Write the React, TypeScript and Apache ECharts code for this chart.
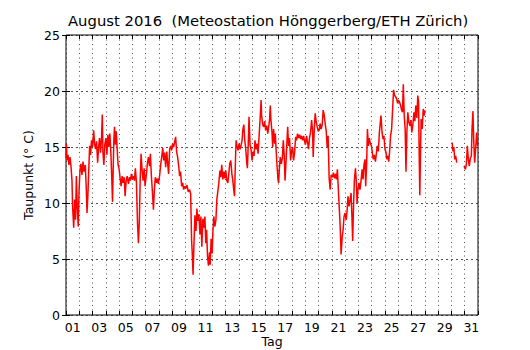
import React, { useEffect, useRef } from "react";
import * as echarts from "echarts";

// Time in days since 1 Aug 00:00, dew point in °C (null = missing data)
const times: number[] = [
  0.00, 0.03, 0.08, 0.15, 0.22, 0.30, 0.38, 0.45, 0.50, 0.58, 0.65, 0.72, 0.78, 0.85, 0.92, 0.98,
  1.05, 1.12, 1.20, 1.28, 1.35, 1.45, 1.52, 1.58, 1.65, 1.72, 1.78, 1.85, 1.92,
  2.00, 2.08, 2.15, 2.22, 2.30, 2.38, 2.45, 2.52, 2.60, 2.68, 2.73, 2.78, 2.85, 2.92,
  3.00, 3.08, 3.15, 3.22, 3.30, 3.38, 3.45, 3.50, 3.55, 3.60, 3.65, 3.72, 3.78, 3.85, 3.92,
  4.00, 4.08, 4.15, 4.22, 4.30, 4.38, 4.45, 4.52, 4.60, 4.70, 4.78, 4.85, 4.92,
  5.00, 5.08, 5.15, 5.22, 5.30, 5.38, 5.45, 5.52, 5.58, 5.65, 5.72, 5.80, 5.88, 5.95,
  6.05, 6.12, 6.20, 6.28, 6.35, 6.42, 6.50, 6.58, 6.65, 6.72, 6.80, 6.88, 6.95,
  7.05, 7.12, 7.20, 7.28, 7.35, 7.42, 7.50, 7.58, 7.65, 7.72, 7.80, 7.88, 7.95,
  8.02, 8.10, 8.18, 8.25, 8.32, 8.40, 8.48, 8.55, 8.62, 8.70, 8.78, 8.85, 8.92,
  9.00, 9.10, 9.20, 9.30, 9.38, 9.45, 9.50, 9.56, 9.62, 9.70, 9.78, 9.85, 9.92,
  10.00, 10.08, 10.15, 10.22, 10.30, 10.38, 10.45, 10.52, 10.58, 10.65, 10.72, 10.80, 10.85, 10.92,
  11.00, 11.05, 11.12, 11.20, 11.28, 11.35, 11.42, 11.50, 11.58, 11.65, 11.72, 11.80, 11.88, 11.95,
  12.02, 12.10, 12.18, 12.25, 12.32, 12.40, 12.48, 12.55, 12.62, 12.68, 12.75, 12.80, 12.88, 12.95,
  13.02, 13.10, 13.18, 13.25, 13.30, 13.38, 13.45, 13.52, 13.60, 13.65, 13.72, 13.77, 13.85, 13.92,
  14.00, 14.08, 14.15, 14.22, 14.30, 14.38, 14.45, 14.52, 14.60, 14.68, 14.72, 14.80, 14.88, 14.95,
  15.02, 15.10, 15.18, 15.25, 15.32, 15.37, 15.42, 15.50, 15.55, 15.62, 15.70, 15.75, 15.82, 15.88, 15.95,
  16.00, 16.05, 16.12, 16.20, 16.28, 16.35, 16.42, 16.48, 16.55, 16.62, 16.68, 16.75, 16.82, 16.90, 16.97,
  17.05, 17.12, 17.20, 17.28, 17.35, 17.42, 17.50, 17.58, 17.65, 17.72, 17.80, 17.88, 17.95,
  18.02, 18.10, 18.18, 18.25, 18.32, 18.40, 18.48, 18.55, 18.60, 18.68, 18.75, 18.82, 18.90, 18.98,
  19.05, 19.12, 19.20, 19.28, 19.35, 19.42, 19.50, 19.58, 19.65, 19.72, 19.80, 19.88, 19.95,
  20.05, 20.12, 20.20, 20.28, 20.35, 20.42, 20.48, 20.55, 20.62, 20.70, 20.78, 20.85, 20.92,
  21.00, 21.08, 21.15, 21.22, 21.30, 21.38, 21.45, 21.52, 21.57, 21.63, 21.70, 21.78, 21.85, 21.90, 21.97,
  22.05, 22.12, 22.20, 22.28, 22.35, 22.42, 22.50, 22.55, 22.62, 22.68, 22.75, 22.82, 22.90, 22.98,
  23.05, 23.12, 23.20, 23.28, 23.35, 23.42, 23.50, 23.58, 23.65, 23.70, 23.78, 23.85, 23.92,
  24.00, 24.08, 24.15, 24.22, 24.28, 24.35, 24.42, 24.50, 24.58, 24.65, 24.72, 24.80, 24.88, 24.95,
  25.02, 25.10, 25.18, 25.25, 25.32, 25.38, 25.45, 25.52, 25.58, 25.65, 25.72, 25.80, 25.88, 25.95,
  26.02, 26.10, 26.18, 26.25, 26.32, 26.40, 26.47, 26.53, 26.58, 26.62, 26.68, 26.72, 26.80, 26.88, 26.95,
  27.00, 27.05,
  29.05, 29.12, 29.18, 29.25, 29.32, 29.40, 29.45,
  29.95, 30.05, 30.12, 30.20, 30.28, 30.35, 30.42, 30.50, 30.55, 30.62, 30.68, 30.75, 30.82, 30.90, 30.97,
];

const dewPoint: (number | null)[] = [
  14.0, 15.3, 13.8, 14.3, 13.4, 14.1, 13.2, 12.0, 9.6, 7.8, 10.3, 8.5, 12.4, 9.6, 7.9, 11.0,
  12.9, 13.5, 12.5, 13.7, 12.8, 13.4, 11.5, 9.1, 10.8, 13.2, 15.1, 14.3, 15.6,
  15.0, 16.5, 15.3, 14.8, 15.5, 13.6, 14.9, 15.8, 14.5, 16.0, 17.9, 14.5, 13.4, 15.2,
  15.8, 14.3, 16.1, 15.0, 16.2, 14.4, 12.0, 10.1, 13.0, 15.6, 16.8, 15.2, 16.4, 14.8, 13.4,
  13.0, 12.1, 11.5, 12.4, 11.8, 12.3, 10.6, 11.9, 12.4, 11.7, 12.3, 12.0, 12.6,
  12.1, 12.4, 12.0, 13.1, 11.8, 8.2, 6.4, 8.5, 12.0, 14.4, 13.0, 12.0, 13.1, 11.5,
  12.6, 13.5, 14.1, 13.3, 14.4, 12.5, 11.0, 9.4, 11.2, 12.3, 11.8, 12.2, 11.7,
  12.5, 13.4, 14.1, 14.9, 13.8, 14.5, 13.2, 14.6, 13.5, 12.6, 14.8, 15.1, 14.7,
  15.3, 15.0, 15.5, 15.9, 14.6, 14.1, 13.3, 12.4, 12.8, 11.5, 11.8, 11.2, 11.5,
  11.3, 11.6, 11.0, 11.2, 10.8, 6.7, 5.5, 3.6, 6.0, 8.9, 7.5, 9.5, 8.4,
  9.0, 7.2, 8.8, 6.1, 8.6, 7.8, 8.8, 6.4, 7.6, 5.2, 4.4, 5.6, 4.5, 6.8,
  5.5, 7.4, 8.8, 7.9, 8.5, 10.3, 11.0, 11.8, 12.9, 12.3, 13.4, 12.1, 12.8, 12.2,
  12.9, 12.0, 11.8, 12.6, 13.5, 13.8, 12.6, 12.0, 11.2, 10.6, 13.8, 15.6, 15.0, 14.7,
  15.3, 14.8, 15.2, 15.6, 16.5, 17.0, 15.6, 14.9, 13.6, 13.1, 15.5, 17.7, 15.2, 14.8,
  13.8, 14.6, 14.2, 15.6, 14.8, 15.3, 14.4, 15.8, 17.4, 19.2, 17.8, 17.0, 16.8, 17.3,
  16.5, 16.9, 16.2, 16.8, 17.5, 18.7, 17.4, 16.3, 15.0, 16.6, 15.3, 16.2, 14.5, 13.3, 12.1,
  11.8, 13.0, 14.1, 13.5, 14.0, 15.6, 14.3, 12.0, 13.6, 15.4, 16.8, 15.1, 15.8, 13.8, 14.6,
  15.0, 13.8, 14.5, 15.9, 15.6, 16.2, 15.8, 16.1, 15.7, 16.0, 15.6, 16.0, 15.5,
  15.2, 16.0, 15.4, 14.8, 15.8, 16.3, 17.4, 16.5, 14.1, 16.6, 18.0, 17.3, 16.8, 16.4,
  16.5, 17.1, 16.6, 17.0, 18.3, 17.9, 17.1, 16.4, 15.0, 16.0, 12.2, 11.2, 12.5,
  12.3, 12.7, 12.2, 12.6, 12.1, 13.0, 11.5, 9.8, 8.2, 5.4, 7.0, 7.6, 8.8,
  9.1, 8.5, 9.3, 10.6, 9.7, 10.3, 10.9, 8.6, 6.6, 9.5, 12.1, 13.1, 11.8, 10.0, 11.2,
  11.8, 11.2, 12.0, 13.0, 12.1, 13.4, 13.9, 11.5, 13.5, 16.6, 15.1, 15.8, 15.3, 15.1,
  14.5, 13.9, 14.3, 13.7, 14.4, 15.1, 14.6, 16.3, 17.2, 17.8, 16.3, 15.7, 16.0,
  14.8, 14.5, 13.9, 14.2, 13.7, 14.6, 16.0, 16.6, 18.5, 20.1, 19.6, 19.5, 19.3, 18.9,
  19.2, 19.0, 18.7, 18.3, 18.1, 20.6, 17.8, 16.6, 12.8, 16.4, 18.1, 17.2, 16.9, 17.4,
  16.3, 17.0, 18.1, 17.3, 18.7, 17.6, 19.6, 19.0, 14.0, 10.7, 15.0, 17.5, 16.6, 18.4, 17.8,
  18.3, null,
  15.4, 14.6, 15.0, 13.9, 14.2, 13.6, null,
  13.3, 13.0, 13.4, 15.1, 13.8, 13.3, 14.0, 14.2, 16.6, 18.2, 15.5, 13.6, 14.8, 16.3, 15.1,
];

const dayLabels: string[] = [
  "01", "02", "03", "04", "05", "06", "07", "08", "09", "10", "11", "12", "13", "14", "15", "16",
  "17", "18", "19", "20", "21", "22", "23", "24", "25", "26", "27", "28", "29", "30", "31",
];

const titleText = "August 2016  (Meteostation Hönggerberg/ETH Zürich)";
const yName = "Taupunkt (° C)";
const xName = "Tag";

const FONT = "DejaVu Sans";

export default function App() {
  const ref = useRef<HTMLDivElement>(null);

  useEffect(() => {
    if (!ref.current) return;
    const el = ref.current;
    const chart = echarts.init(el, undefined, { renderer: "svg", width: 530, height: 350 });
    const data = times.map((t, i) => [t, dewPoint[i]]);
    const grid = { left: 66, right: 52, top: 35, bottom: 35 };
    const gridDots = { color: "#222", width: 0.8, type: [1, 3.5] as any };
    const hDots = { color: "#222", width: 0.8, type: [2, 3] as any };
    chart.setOption({
      animation: false,
      backgroundColor: "#fff",
      textStyle: { fontFamily: FONT, color: "#000" },
      title: {
        text: titleText,
        left: 68,
        top: 13,
        padding: 0,
        textStyle: { fontFamily: FONT, fontSize: 14.8, fontWeight: "normal", color: "#000" },
      },
      grid: {
        ...grid,
        containLabel: false,
        outerBoundsMode: "none",
        show: true,
        borderColor: "#000",
        borderWidth: 1,
        backgroundColor: "transparent",
      },
      xAxis: [
        {
          type: "value",
          min: 0,
          max: 31,
          interval: 1,
          position: "bottom",
          axisLine: { show: false },
          axisTick: { show: true, inside: true, length: 4, lineStyle: { color: "#000" } },
          axisLabel: { show: false },
          splitLine: { show: true, lineStyle: gridDots },
        },
        {
          type: "category",
          data: dayLabels,
          position: "bottom",
          boundaryGap: true,
          axisLine: { show: false },
          axisTick: { show: false },
          splitLine: { show: false },
          axisLabel: { interval: 1, margin: 6, fontSize: 12.5, color: "#000", fontFamily: FONT },
          name: xName,
          nameLocation: "middle",
          nameGap: 20,
          nameMoveOverlap: false,
          nameTextStyle: { fontSize: 12.5, color: "#000", fontFamily: FONT, verticalAlign: "top" },
        },
        {
          type: "value",
          min: 0,
          max: 31,
          interval: 1,
          position: "top",
          axisLine: { show: false },
          axisTick: { show: true, inside: true, length: 4, lineStyle: { color: "#000" } },
          axisLabel: { show: false },
          splitLine: { show: false },
        },
      ],
      yAxis: [
        {
          type: "value",
          min: 0,
          max: 25,
          interval: 5,
          position: "left",
          axisLine: { show: false },
          axisTick: { show: true, inside: true, length: 4, lineStyle: { color: "#000" } },
          axisLabel: { margin: 6, fontSize: 12.5, color: "#000", fontFamily: FONT },
          splitLine: { show: true, lineStyle: hDots },
          name: yName,
          nameLocation: "middle",
          nameRotate: 90,
          nameGap: 31,
          nameMoveOverlap: false,
          nameTextStyle: { fontSize: 12.5, color: "#000", fontFamily: FONT },
        },
        {
          type: "value",
          min: 0,
          max: 25,
          interval: 5,
          position: "right",
          axisLine: { show: false },
          axisTick: { show: true, inside: true, length: 4, lineStyle: { color: "#000" } },
          axisLabel: { show: false },
          splitLine: { show: false },
        },
      ],
      series: [
        {
          type: "line",
          xAxisIndex: 0,
          yAxisIndex: 0,
          data,
          showSymbol: false,
          connectNulls: false,
          clip: true,
          lineStyle: { color: "#ff0000", width: 1.5 },
          itemStyle: { color: "#ff0000" },
        },
      ],
    });
    return () => chart.dispose();
  }, []);

  return (
    <div
      ref={ref}
      style={{ position: "fixed", left: 0, top: 0, width: 530, height: 350, background: "#fff" }}
    />
  );
}
